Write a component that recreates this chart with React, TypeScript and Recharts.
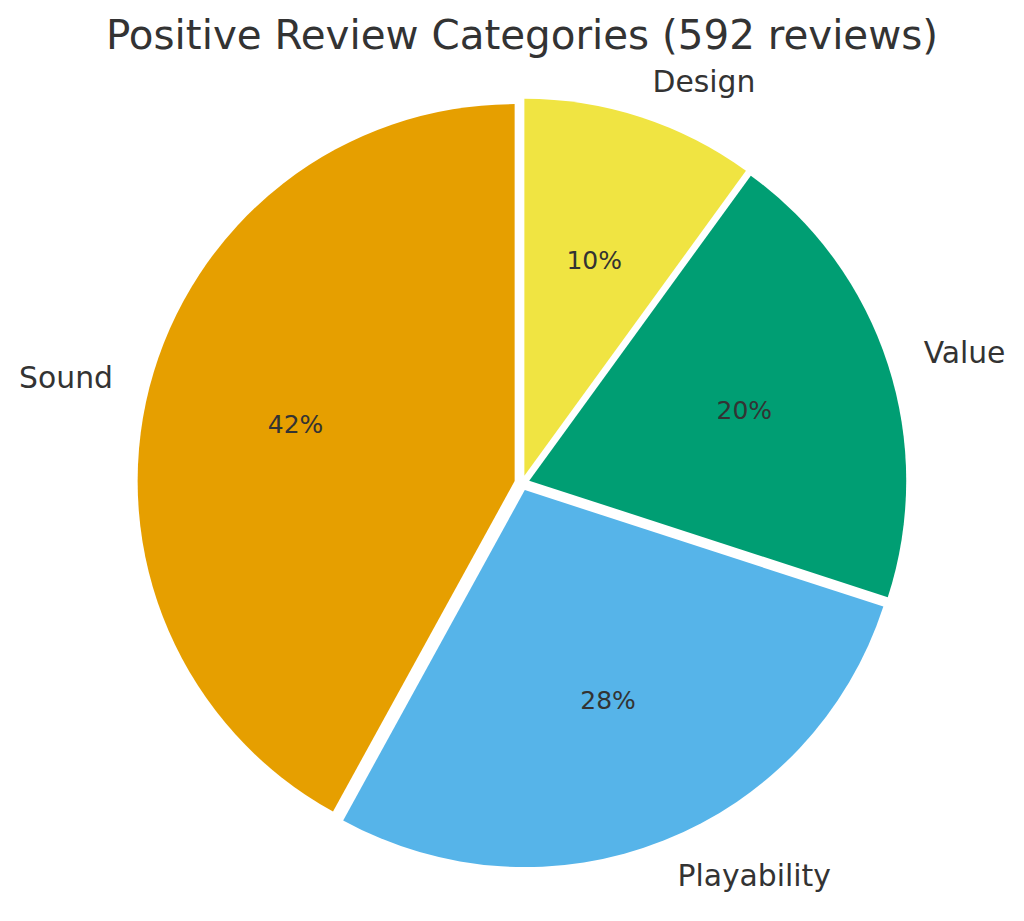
import React from "react";
import { PieChart, Pie, Cell, Sector } from "recharts";

const categories = ["Design", "Value", "Playability", "Sound"];
const shares = [10, 20, 28, 42];
const colors = ["#F0E442", "#009E73", "#56B4E9", "#E69F00"];

const data = categories.map((name, i) => ({ name, value: shares[i] }));

const RADIAN = Math.PI / 180;
const RADIUS = 377;
const EXPLODE = 7.6;
const FONT = "DejaVu Sans, sans-serif";
const TEXT = "#333333";

// shift every wedge a little outwards, like matplotlib's explode
const ExplodedSector = (props: any) => {
  const mid = (props.startAngle + props.endAngle) / 2;
  return (
    <Sector
      {...props}
      cx={props.cx + EXPLODE * Math.cos(mid * RADIAN)}
      cy={props.cy - EXPLODE * Math.sin(mid * RADIAN)}
      stroke="none"
    />
  );
};

const renderLabel = (props: any) => {
  const { cx, cy, midAngle, outerRadius, percent, name } = props;
  const cos = Math.cos(midAngle * RADIAN);
  const sin = Math.sin(midAngle * RADIAN);
  const rIn = outerRadius * 0.6 + EXPLODE;
  const rOut = outerRadius * 1.1 + EXPLODE;
  return (
    <g>
      <text
        x={cx + rIn * cos}
        y={cy - rIn * sin}
        textAnchor="middle"
        dominantBaseline="central"
        fontFamily={FONT}
        fontSize={25}
        fill={TEXT}
      >
        {`${Math.round(percent * 100)}%`}
      </text>
      <text
        x={cx + rOut * cos}
        y={cy - rOut * sin}
        textAnchor={cos >= 0 ? "start" : "end"}
        dominantBaseline="central"
        fontFamily={FONT}
        fontSize={29.8}
        fill={TEXT}
      >
        {name}
      </text>
    </g>
  );
};

export default function App() {
  return (
    <div style={{ position: "absolute", left: 0, top: 0, background: "#fff" }}>
      <PieChart
        width={1024}
        height={921}
        margin={{ top: 0, right: 0, bottom: 0, left: 0 }}
      >
        <text
          x={522}
          y={49}
          textAnchor="middle"
          fontFamily={FONT}
          fontSize={40.4}
          fill={TEXT}
        >
          Positive Review Categories (592 reviews)
        </text>
        <Pie
          data={data}
          dataKey="value"
          nameKey="name"
          cx={522}
          cy={483}
          outerRadius={RADIUS}
          startAngle={90}
          endAngle={-270}
          stroke="none"
          shape={ExplodedSector}
          label={renderLabel}
          labelLine={false}
          isAnimationActive={false}
        >
          {data.map((d, i) => (
            <Cell key={d.name} fill={colors[i]} />
          ))}
        </Pie>
      </PieChart>
    </div>
  );
}
